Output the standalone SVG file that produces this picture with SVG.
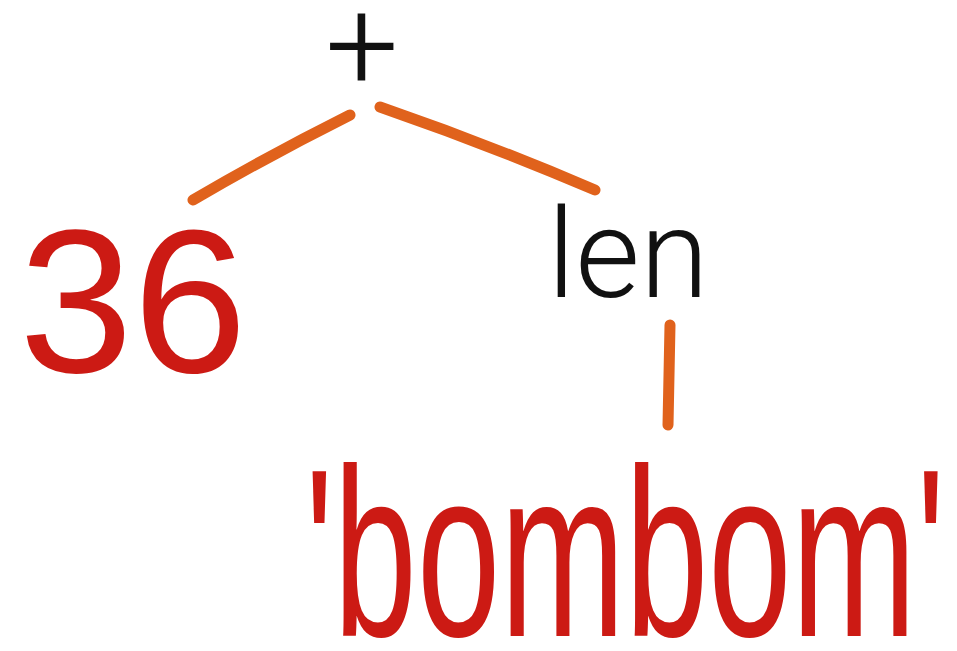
<svg xmlns="http://www.w3.org/2000/svg" width="957" height="651" viewBox="0 0 957 651">
<style>
.red{fill:#cc1a14;font-family:"Liberation Sans",Arial,sans-serif}
.blk{fill:#111;font-family:"Liberation Sans",Arial,sans-serif}
.thin{font-family:Roboto,"Liberation Sans",sans-serif;font-weight:300}
.edge{stroke:#e0621c;stroke-width:11;stroke-linecap:round;fill:none}
</style>
<rect width="957" height="651" fill="#fff"/>
<g id="connectors">
<path class="edge" d="M350,115 Q270,155 193,200"/>
<path class="edge" d="M380,107 Q490,145 595,190"/>
<path class="edge" d="M670,325 L668,425"/>
</g>
<g id="node-plus"><text class="blk thin" x="362" y="90" font-size="130" text-anchor="middle">+</text></g>
<g id="node-36"><text class="red" x="133" y="372" font-size="205" text-anchor="middle">36</text></g>
<g id="node-len"><text class="blk thin" x="628" y="297" font-size="125" text-anchor="middle">len</text></g>
<g id="node-bombom"><text class="red" x="305" y="636" font-size="240" textLength="640" lengthAdjust="spacingAndGlyphs">'bombom'</text></g>
</svg>
